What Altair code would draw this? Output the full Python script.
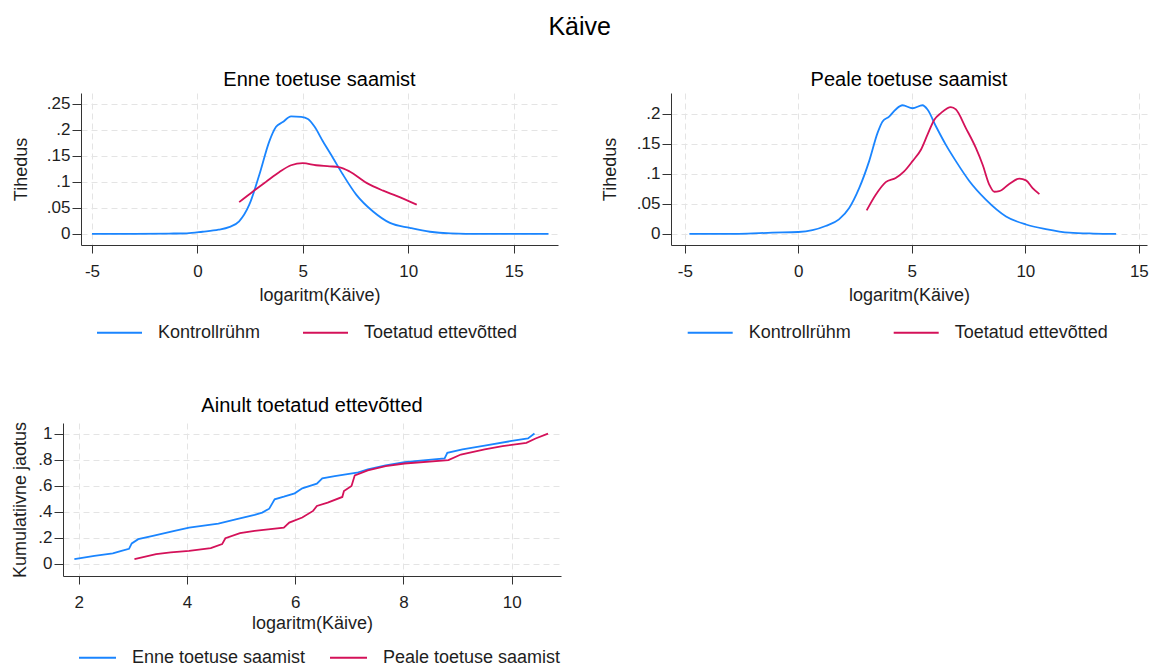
import altair as alt
import pandas as pd

FONT = "Liberation Sans"
BLUE = "#1a85ff"
RED = "#d41159"
INK = "#1e1e1e"

# ---------------- data ----------------
P1_CTRL_X = [-5.0, -3.0, -1.35, -0.5, 0.24, 1.0, 1.5, 1.98, 2.46, 2.94, 3.41, 3.73, 4.05, 4.44,
             4.92, 5.24, 5.56, 5.95, 6.43, 6.9, 7.54, 8.33, 9.13, 10.08, 11.03, 12.0, 13.5, 15.0, 16.65]
P1_CTRL_Y = [0, 0, 0.0005, 0.001, 0.004, 0.008, 0.013, 0.024, 0.056, 0.114, 0.178, 0.206, 0.215, 0.226,
             0.225, 0.221, 0.206, 0.178, 0.146, 0.114, 0.075, 0.043, 0.021, 0.0115, 0.004, 0.001, 0, 0, 0]
P1_TREAT_X = [1.98, 2.62, 3.25, 3.89, 4.44, 5.0, 5.63, 6.27, 6.75, 7.22, 8.02, 8.81, 9.44, 10.4]
P1_TREAT_Y = [0.061, 0.081, 0.1, 0.119, 0.132, 0.136, 0.132, 0.13, 0.128, 0.12, 0.098, 0.083, 0.073, 0.056]

P2_CTRL_X = [-4.8, -2.62, -1.15, 0, 0.62, 1.2, 1.79, 2.24, 2.68, 3.12, 3.49, 3.71, 4.0, 4.29, 4.59,
             5.03, 5.47, 5.69, 6.06, 6.5, 6.94, 7.53, 8.26, 9.15, 10.03, 10.9, 11.94, 13.0, 14.0]
P2_CTRL_Y = [0, 0, 0.002, 0.003, 0.006, 0.013, 0.024, 0.043, 0.076, 0.121, 0.168, 0.187, 0.195, 0.207, 0.214,
             0.209, 0.214, 0.207, 0.179, 0.148, 0.121, 0.088, 0.057, 0.029, 0.0155, 0.008, 0.002, 0.0005, 0]
P2_TREAT_X = [3.01, 3.41, 3.85, 4.29, 4.66, 5.03, 5.4, 5.69, 5.99, 6.28, 6.72, 6.94, 7.38, 7.82, 8.12,
              8.41, 8.63, 8.85, 9.29, 9.74, 10.03, 10.32, 10.62]
P2_TREAT_Y = [0.039, 0.065, 0.086, 0.093, 0.104, 0.121, 0.14, 0.165, 0.19, 0.201, 0.211, 0.207, 0.176, 0.143,
              0.115, 0.082, 0.07, 0.071, 0.083, 0.092, 0.089, 0.076, 0.066]

P3_BEFORE_X = [1.92, 2.29, 2.63, 2.79, 2.93, 2.98, 3.1, 3.37, 3.77, 4.04, 4.58, 4.92, 5.25, 5.39, 5.52,
               5.62, 5.79, 5.99, 6.13, 6.4, 6.5, 6.73, 7.14, 7.34, 7.67, 8.02, 8.76, 8.81, 9.09, 9.5,
               9.97, 10.3, 10.42]
P3_BEFORE_Y = [0.036, 0.061, 0.079, 0.099, 0.115, 0.156, 0.189, 0.214, 0.253, 0.278, 0.309, 0.342, 0.375,
               0.393, 0.423, 0.495, 0.515, 0.541, 0.579, 0.615, 0.656, 0.673, 0.699, 0.724, 0.755, 0.781,
               0.809, 0.852, 0.878, 0.908, 0.941, 0.962, 1.0]
P3_AFTER_X = [3.03, 3.43, 3.7, 4.04, 4.44, 4.65, 4.71, 4.98, 5.25, 5.79, 5.89, 6.13, 6.33, 6.4, 6.6, 6.87,
              6.9, 7.04, 7.1, 7.34, 7.67, 8.02, 8.83, 9.06, 9.5, 9.83, 10.27, 10.44, 10.67]
P3_AFTER_Y = [0.036, 0.074, 0.087, 0.099, 0.12, 0.151, 0.196, 0.235, 0.253, 0.278, 0.316, 0.355, 0.406,
              0.444, 0.469, 0.513, 0.559, 0.597, 0.679, 0.717, 0.75, 0.77, 0.796, 0.839, 0.878, 0.903,
              0.929, 0.962, 1.0]

DENS_SERIES = ["Kontrollrühm", "Toetatud ettevõtted"]
CDF_SERIES = ["Enne toetuse saamist", "Peale toetuse saamist"]
X_TICKS_DENS = [-5, 0, 5, 10, 15]
X_TICKS_CDF = [2, 4, 6, 8, 10]
Y_TICKS_P1 = [0, 0.05, 0.1, 0.15, 0.2, 0.25]
Y_TICKS_P2 = [0, 0.05, 0.1, 0.15, 0.2]
Y_TICKS_P3 = [0, 0.2, 0.4, 0.6, 0.8, 1]


def frame(xs1, ys1, xs2, ys2, names):
    a = pd.DataFrame({"x": xs1, "y": ys1, "series": names[0]})
    b = pd.DataFrame({"x": xs2, "y": ys2, "series": names[1]})
    return pd.concat([a, b], ignore_index=True)


Y_LABEL = "datum.value == 0 ? '0' : replace(format(datum.value, '.2~f'), '0.', '.')"
X_LABEL = "'' + datum.value"


def panel(df, title, names, xdom, ydom, xticks, yticks, w, h, ytitle, ytitle_x, xtitle_y,
          title_offset, sym, colpad, leg_x, leg_y, interp):
    return alt.Chart(df).mark_line(strokeWidth=1.8, interpolate=interp).encode(
        x=alt.X("x:Q",
                scale=alt.Scale(domain=xdom, nice=False, zero=False),
                axis=alt.Axis(values=xticks, title="logaritm(Käive)", labelExpr=X_LABEL,
                              tickSize=8, labelPadding=10, titleY=xtitle_y,
                              titleBaseline="alphabetic")),
        y=alt.Y("y:Q",
                scale=alt.Scale(domain=ydom, nice=False, zero=False),
                axis=alt.Axis(values=yticks, title=ytitle, labelExpr=Y_LABEL,
                              tickSize=9, labelPadding=2, titleX=ytitle_x,
                              titleBaseline="alphabetic")),
        color=alt.Color("series:N",
                        scale=alt.Scale(domain=names, range=[BLUE, RED]),
                        legend=alt.Legend(orient="none", legendX=leg_x, legendY=leg_y,
                                          direction="horizontal", columns=2, title=None,
                                          symbolType="stroke", symbolSize=sym,
                                          symbolStrokeWidth=1.8, labelFontSize=18,
                                          labelFont=FONT, labelColor=INK, labelOffset=15,
                                          labelLimit=400,
                                          columnPadding=colpad, padding=0)),
    ).properties(
        width=w, height=h,
        title=alt.TitleParams(title, fontSize=20, font=FONT, fontWeight="normal",
                              color="black", offset=title_offset, anchor="middle"),
    )


p1 = panel(frame(P1_CTRL_X, P1_CTRL_Y, P1_TREAT_X, P1_TREAT_Y, DENS_SERIES),
           "Enne toetuse saamist", DENS_SERIES, [-5.52, 17.1], [-0.0215, 0.271],
           X_TICKS_DENS, Y_TICKS_P1, 477, 152, "Tihedus", -55, 55, 3, 2025, 38, 15, 216,
           "monotone")
p2 = panel(frame(P2_CTRL_X, P2_CTRL_Y, P2_TREAT_X, P2_TREAT_Y, DENS_SERIES),
           "Peale toetuse saamist", DENS_SERIES, [-5.61, 15.36], [-0.0186, 0.2344],
           X_TICKS_DENS, Y_TICKS_P2, 476, 152, "Tihedus", -56, 55, 3, 2025, 38, 15.7, 216,
           "monotone")
p3 = panel(frame(P3_BEFORE_X, P3_BEFORE_Y, P3_AFTER_X, P3_AFTER_Y, CDF_SERIES),
           "Ainult toetatud ettevõtted", CDF_SERIES, [1.71, 10.91], [-0.094, 1.081],
           X_TICKS_CDF, Y_TICKS_P3, 498, 153, "Kumulatiivne jaotus", -38, 52, 5, 1369, 20, 15, 215,
           "linear")

spacer = alt.Chart(pd.DataFrame({"a": [0]})).mark_point(opacity=0, size=1).encode(
    x=alt.value(0), y=alt.value(0)).properties(width=1, height=1)

row1 = alt.hconcat(p1, p2, spacing=43).resolve_scale(color="independent").resolve_legend(color="independent")
row1b = alt.hconcat(spacer, row1, spacing=-52).resolve_scale(color="independent").resolve_legend(color="independent")

chart = alt.vconcat(row1b, p3, spacing=54).resolve_scale(color="independent").resolve_legend(
    color="independent"
).properties(
    title=alt.TitleParams("Käive", fontSize=25, font=FONT, fontWeight="normal", color="black",
                          anchor="middle", offset=30),
    padding={"left": 10, "top": 15, "right": 0, "bottom": 0},
    background="white",
).configure_view(stroke=None).configure_axis(
    domainColor="#333333", tickColor="#333333", domainWidth=1, tickWidth=1,
    gridColor="#e4e4e4", gridDash=[6, 4], gridWidth=1,
    labelFont=FONT, labelFontSize=17, labelColor=INK, labelFlush=False,
    titleFont=FONT, titleFontSize=18, titleFontWeight="normal", titleColor=INK,
).configure_legend(labelFont=FONT)

chart.save("out.html", embed_options={"renderer": "svg", "actions": False})
